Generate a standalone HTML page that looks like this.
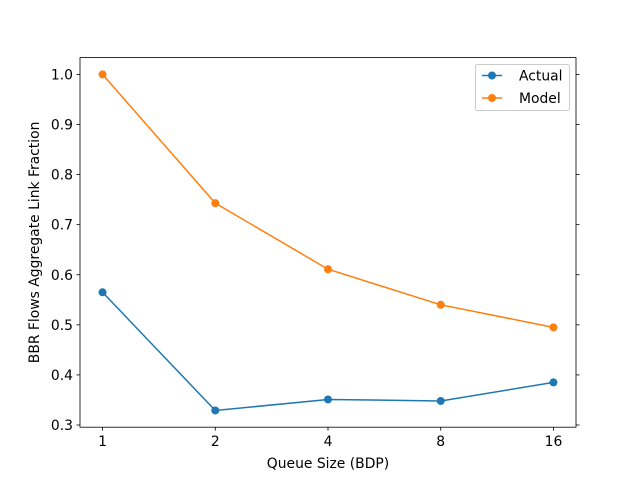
<!DOCTYPE html>
<html><head><meta charset="utf-8"><style>
body{margin:0;background:#fff}
svg text{font-family:"DejaVu Sans","Liberation Sans",sans-serif;font-size:13.9px;fill:#000}
</style></head><body>
<svg id="chart" width="640" height="480" xmlns="http://www.w3.org/2000/svg"></svg>
<script>
const categories=["1","2","4","8","16"];
const actualValues=[0.565,0.329,0.351,0.348,0.385];
const modelValues=[1.0,0.743,0.611,0.540,0.495];
const yTicks=[0.3,0.4,0.5,0.6,0.7,0.8,0.9,1.0];
const seriesNames=["Actual","Model"];

const L=80,R=576,T=57.6,B=427.2;
const yMin=0.2956,yMax=1.0336;
const xs=i=>L+(i+0.2)/4.4*(R-L);
const ys=v=>B-(v-yMin)/(yMax-yMin)*(B-T);
const svg=document.getElementById('chart');
const NS="http://www.w3.org/2000/svg";
function mk(tag,attrs,parent){const e=document.createElementNS(NS,tag);for(const k in attrs)e.setAttribute(k,attrs[k]);(parent||svg).appendChild(e);return e;}

yTicks.forEach(v=>{
  const y=ys(v);
  const t=mk('line',{x1:L-3.5,x2:L,y1:y,y2:y,stroke:'#000','stroke-width':0.8});
  
  
  const t2=mk('line',{x1:R,x2:R+3.5,y1:y,y2:y,stroke:'#000','stroke-width':0.8});
  
  
  const lb=mk('text',{x:L-7,y:y+5,'text-anchor':'end'});
  lb.textContent=v.toFixed(1);
  
  
});
categories.forEach((c,i)=>{
  const x=xs(i);
  const t=mk('line',{x1:x,x2:x,y1:B,y2:B+3.5,stroke:'#000','stroke-width':0.8});
  
  
  const lb=mk('text',{x:x,y:B+19,'text-anchor':'middle'});
  lb.textContent=c;
  
  
});
function series(vals,color,name){
  const g=mk('g',{});
  
  
  mk('polyline',{points:vals.map((v,i)=>xs(i)+','+ys(v)).join(' '),fill:'none',stroke:color,'stroke-width':1.5},g);
  vals.forEach((v,i)=>{
    const p=mk('circle',{cx:xs(i),cy:ys(v),r:4,fill:color},g);
    
    
  });
}
series(actualValues,'#1f77b4','actual');
series(modelValues,'#ff7f0e','model');
const frame=mk('rect',{x:L,y:T,width:R-L,height:B-T,fill:'none',stroke:'#000','stroke-width':0.8});


const xt=mk('text',{x:(L+R)/2,y:468,'text-anchor':'middle'});
xt.textContent='Queue Size (BDP)';


const yt=mk('text',{x:39,y:(T+B)/2,'text-anchor':'middle',transform:'rotate(-90 39 '+((T+B)/2)+')'});
yt.textContent='BBR Flows Aggregate Link Fraction';


const lg=mk('g',{});


mk('rect',{x:475.5,y:64.5,width:94,height:46,rx:2,fill:'#fff',stroke:'#ccc','stroke-width':1},lg);
[['#1f77b4',0],['#ff7f0e',1]].forEach(([c,i])=>{
  const y=75.5+i*22.5;
  mk('line',{x1:482,x2:502,y1:y,y2:y,stroke:c,'stroke-width':1.5},lg);
  mk('circle',{cx:492,cy:y,r:4,fill:c},lg);
  const t=mk('text',{x:519,y:y+5},lg);
  t.textContent=seriesNames[i];
  
  
});
</script>
</body></html>
